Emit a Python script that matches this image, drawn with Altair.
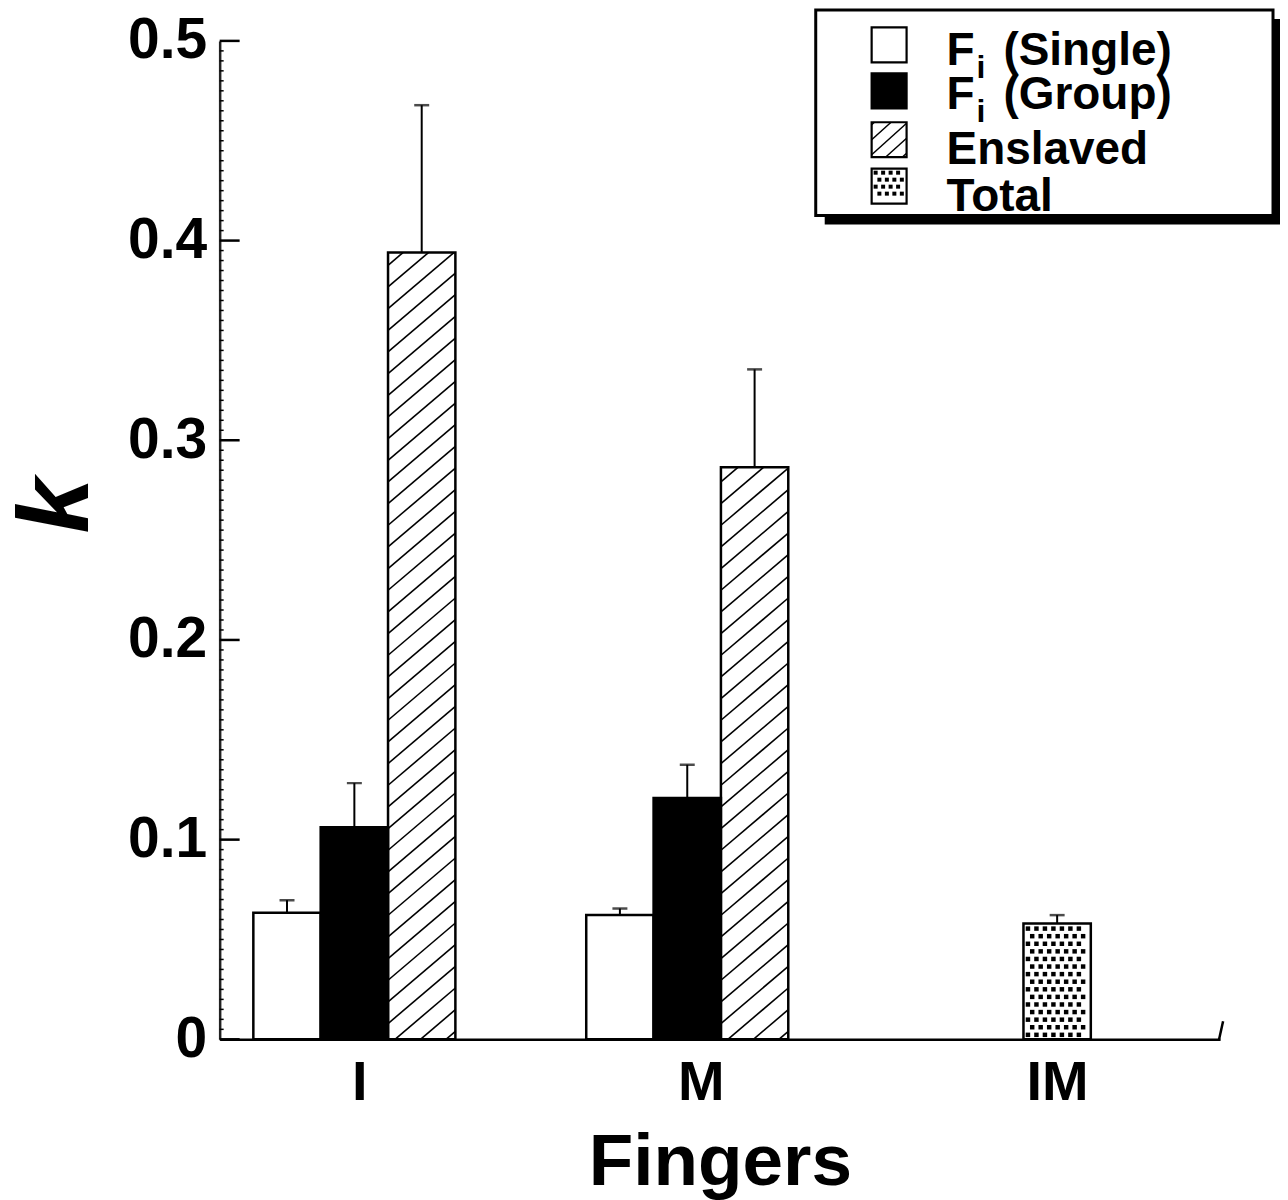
import altair as alt
import pandas as pd
import numpy as np

# ---------------- data ----------------
fingers = ["I", "M", "IM"]
single_k = [0.0634, 0.0622]      # I, M
single_err = [0.0063, 0.0033]
group_k = [0.1062, 0.1208]       # I, M
group_err = [0.0221, 0.0167]
enslaved_k = [0.394, 0.2865]     # I, M
enslaved_err = [0.0738, 0.049]
total_k = [0.058]                # IM
total_err = [0.0042]
legend_main = ["F", "F", "Enslaved", "Total"]
legend_rest = ["(Single)", "(Group)", "", ""]
y_ticks = [0, 0.1, 0.2, 0.3, 0.4, 0.5]

# ---------------- layout ----------------
W, H = 1002, 1000
XDOM = [0.6, 3.467]
YDOM = [0, 0.5]
PXX = W / (XDOM[1] - XDOM[0])
PXY = H / (YDOM[1] - YDOM[0])
group_center = {"I": 0.986, "M": 1.940, "IM": 3.0}
label_pos = [1.0, 1.979, 3.0]
BW = 0.193
FONT = "Liberation Sans"

rows = []
for i, f in enumerate(["I", "M"]):
    c = group_center[f]
    for off, name, ks, es, fill in [(-1, "Single", single_k, single_err, "white"),
                                     (0, "Group", group_k, group_err, "black"),
                                     (1, "Enslaved", enslaved_k, enslaved_err, "white")]:
        xc = c + off * BW
        rows.append(dict(finger=f, series=name, k=ks[i], err=es[i], xc=xc,
                         x0=xc - BW / 2, x1=xc + BW / 2, fill=fill))
c = group_center["IM"]
rows.append(dict(finger="IM", series="Total", k=total_k[0], err=total_err[0], xc=c,
                 x0=c - BW / 2, x1=c + BW / 2, fill="white"))
bars = pd.DataFrame(rows)
bars["base"] = 0.0
bars["top"] = bars["k"] + bars["err"]


def hatch_segments(w, h, spacing, slope, phase=0.0):
    segs = []
    rise = slope * w
    cc = -rise + phase
    while cc < h:
        u0, v0 = 0.0, cc
        if cc < 0:
            u0, v0 = -cc / slope, 0.0
        u1, v1 = w, cc + rise
        if v1 > h:
            u1, v1 = (h - cc) / slope, h
        if u1 - u0 > 0.5:
            segs.append((u0, v0, u1, v1))
        cc += spacing
    return segs


def dot_points(w, h, sx, sy, inset):
    pts = []
    r = 0
    v = inset
    while v <= h - inset:
        u = inset + (sx / 2 if r % 2 else 0)
        while u <= w - inset:
            pts.append((u, v))
            u += sx
        v += sy
        r += 1
    return pts


# hatch lines inside Enslaved bars (data coordinates)
hl = []
for _, b in bars[bars.series == "Enslaved"].iterrows():
    wpx = (b.x1 - b.x0) * PXX
    hpx = b.k * PXY
    for u0, v0, u1, v1 in hatch_segments(wpx, hpx, 21.7, 0.85, 8):
        hl.append(dict(x=b.x0 + u0 / PXX, y=v0 / PXY, x2=b.x0 + u1 / PXX, y2=v1 / PXY))
hatch_df = pd.DataFrame(hl)

# dots inside Total bar
dl = []
for _, b in bars[bars.series == "Total"].iterrows():
    wpx = (b.x1 - b.x0) * PXX
    hpx = b.k * PXY
    for u, v in dot_points(wpx, hpx, 8.5, 7.6, 4.5):
        dl.append(dict(x=b.x0 + u / PXX, y=v / PXY))
dots_df = pd.DataFrame(dl)

xs = alt.Scale(domain=XDOM, nice=False, zero=False)
ys = alt.Scale(domain=YDOM, nice=False, zero=False)

xaxis = alt.Axis(values=label_pos, ticks=False, tickSize=0, grid=False,
                 labelExpr="datum.value < 1.5 ? 'I' : (datum.value < 2.5 ? 'M' : 'IM')",
                 labelFont=FONT, labelFontWeight="bold", labelFontSize=56, labelColor="black",
                 labelPadding=16, domainColor="black", domainWidth=2.5,
                 title="Fingers", titleFont=FONT, titleFontWeight="bold", titleFontSize=73,
                 titleColor="black", titleBaseline="alphabetic", titleY=145, titleX=501)
yaxis = alt.Axis(values=y_ticks, ticks=False, tickSize=0, grid=False,
                 labelExpr="datum.value == 0 ? '0' : format(datum.value, '.1f')",
                 labelFont=FONT, labelFontWeight="bold", labelFontSize=57, labelColor="black",
                 labelPadding=13, domainColor="#222222", domainWidth=2.5,
                 title="k", titleFont=FONT, titleFontWeight="bold", titleFontStyle="italic",
                 titleFontSize=100, titleColor="black", titleAngle=270,
                 titleBaseline="alphabetic", titleAlign="center", titleX=-132, titleY=465)

base = alt.Chart(bars)

bar_fill = base.mark_rect(strokeWidth=0).encode(
    x=alt.X("x0:Q", scale=xs, axis=xaxis), x2="x1:Q",
    y=alt.Y("k:Q", scale=ys, axis=yaxis), y2="base:Q",
    fill=alt.Fill("fill:N", scale=None))

hatch = alt.Chart(hatch_df).mark_rule(color="black", strokeWidth=1.6).encode(
    x=alt.X("x:Q", scale=xs), x2="x2:Q", y=alt.Y("y:Q", scale=ys), y2="y2:Q")

dots = alt.Chart(dots_df).mark_square(color="black", size=20, opacity=1).encode(
    x=alt.X("x:Q", scale=xs), y=alt.Y("y:Q", scale=ys))

bar_outline = base.mark_rect(fillOpacity=0, stroke="black", strokeWidth=2.5).encode(
    x=alt.X("x0:Q", scale=xs), x2="x1:Q", y=alt.Y("k:Q", scale=ys), y2="base:Q")

err_line = base.mark_rule(color="black", strokeWidth=2).encode(
    x=alt.X("xc:Q", scale=xs), y=alt.Y("k:Q", scale=ys), y2="top:Q")

err_cap = base.mark_tick(orient="horizontal", size=15, thickness=2.5, color="black").encode(
    x=alt.X("xc:Q", scale=xs), y=alt.Y("top:Q", scale=ys))

major_df = pd.DataFrame({"t": y_ticks})
minor_df = pd.DataFrame({"t": [v / 1000 for v in range(0, 501, 5) if v % 100]})
major = alt.Chart(major_df).mark_rule(color="black", strokeWidth=2.5).encode(
    x=alt.value(0), x2=alt.value(20), y=alt.Y("t:Q", scale=ys))
minor = alt.Chart(minor_df).mark_rule(color="black", strokeWidth=1.5).encode(
    x=alt.value(0), x2=alt.value(4), y=alt.Y("t:Q", scale=ys))
end_tick = alt.Chart(major_df.head(1)).mark_rule(color="black", strokeWidth=2.5).encode(
    x=alt.value(1001), x2=alt.value(1005), y=alt.value(1000), y2=alt.value(982))

# ---------------- legend (pixel coordinates) ----------------
def px(name):
    return alt.X(f"{name}:Q", scale=None, axis=None)


def py(name):
    return alt.Y(f"{name}:Q", scale=None, axis=None)


frame_df = pd.DataFrame({"x": [606, 597], "x2": [1064, 1055], "y": [-22, -31], "y2": [184, 175]})
shadow = alt.Chart(frame_df.head(1)).mark_rect(fill="black").encode(
    x=px("x"), x2="x2:Q", y=py("y"), y2="y2:Q")
box = alt.Chart(frame_df.tail(1)).mark_rect(fill="white", stroke="black", strokeWidth=3).encode(
    x=px("x"), x2="x2:Q", y=py("y"), y2="y2:Q")

sw_cy = [4, 50, 99, 145.5]
SW = 35
sw_df = pd.DataFrame({"x": [653] * 4, "x2": [653 + SW] * 4,
                      "y": [c - SW / 2 for c in sw_cy], "y2": [c + SW / 2 for c in sw_cy],
                      "fill": ["white", "black", "white", "white"]})
sw_fill = alt.Chart(sw_df).mark_rect(strokeWidth=0).encode(
    x=px("x"), x2="x2:Q", y=py("y"), y2="y2:Q", fill=alt.Fill("fill:N", scale=None))
sw_outline = alt.Chart(sw_df).mark_rect(fillOpacity=0, stroke="black", strokeWidth=2.2).encode(
    x=px("x"), x2="x2:Q", y=py("y"), y2="y2:Q")

lh = []
bottom = sw_cy[2] + SW / 2
for u0, v0, u1, v1 in hatch_segments(SW, SW, 15, 0.9, 4):
    lh.append(dict(x=653 + u0, y=bottom - v0, x2=653 + u1, y2=bottom - v1))
sw_hatch = alt.Chart(pd.DataFrame(lh)).mark_rule(color="black", strokeWidth=1.5).encode(
    x=px("x"), x2="x2:Q", y=py("y"), y2="y2:Q")

ld = []
top3 = sw_cy[3] - SW / 2
for u, v in dot_points(SW, SW, 7.5, 7.0, 4):
    ld.append(dict(x=653 + u, y=top3 + v))
sw_dots = alt.Chart(pd.DataFrame(ld)).mark_square(color="black", size=16, opacity=1).encode(
    x=px("x"), y=py("y"))

base_lines = [24, 68, 123, 170]
txt_main = pd.DataFrame({"x": [728] * 4, "y": base_lines, "t": legend_main})
txt_rest = pd.DataFrame({"x": [785] * 2, "y": base_lines[:2], "t": legend_rest[:2]})
txt_sub = pd.DataFrame({"x": [758] * 2, "y": [b + 13 for b in base_lines[:2]], "t": ["i", "i"]})
tstyle = dict(align="left", baseline="alphabetic", font=FONT, fontWeight="bold", color="black")
leg_main = alt.Chart(txt_main).mark_text(fontSize=46, **tstyle).encode(
    x=px("x"), y=py("y"), text="t:N")
leg_rest = alt.Chart(txt_rest).mark_text(fontSize=46, **tstyle).encode(
    x=px("x"), y=py("y"), text="t:N")
leg_sub = alt.Chart(txt_sub).mark_text(fontSize=32, **tstyle).encode(
    x=px("x"), y=py("y"), text="t:N")

chart = alt.layer(
    bar_fill, hatch, dots, bar_outline, err_line, err_cap, major, minor, end_tick,
    shadow, box, sw_fill, sw_hatch, sw_dots, sw_outline, leg_main, leg_rest, leg_sub
).properties(
    width=W, height=H,
    autosize=alt.AutoSizeParams(type="none"),
    padding={"left": 212, "top": 32, "right": 60, "bottom": 168},
).configure(background="white").configure_view(stroke=None, strokeWidth=0).configure_axis(grid=False)

chart.save("out.html", embed_options={"renderer": "svg", "actions": False})
